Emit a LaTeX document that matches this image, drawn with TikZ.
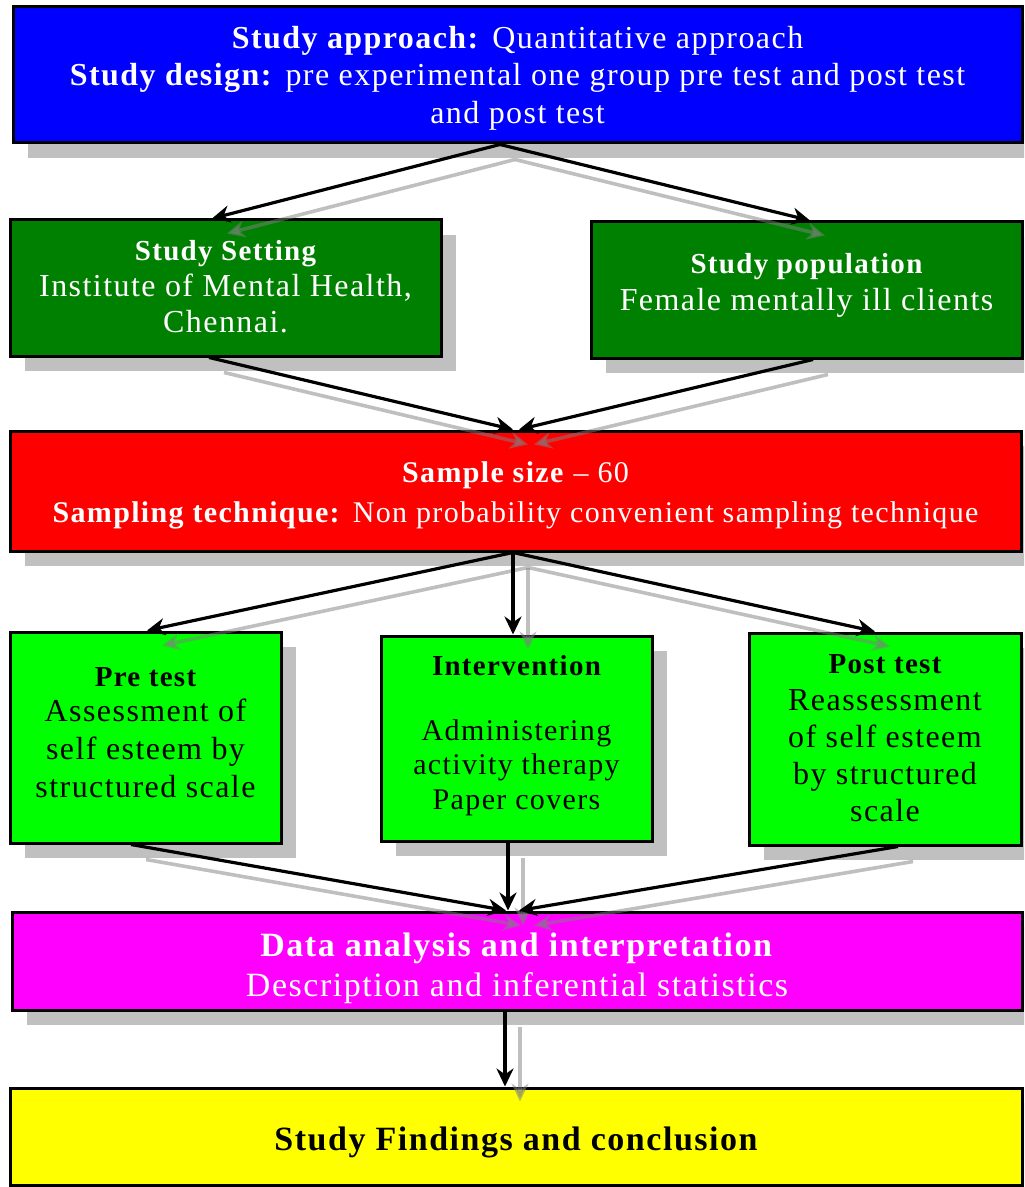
\documentclass[tikz,border=0pt]{standalone}
\usepackage{fontspec}
\setmainfont{Liberation Serif}[LetterSpace=4.5]
\usetikzlibrary{shadows,arrows.meta,calc}
\definecolor{shd}{HTML}{C0C0C0}
\definecolor{cblue}{HTML}{0000FF}
\definecolor{cdgreen}{HTML}{008000}
\definecolor{cred}{HTML}{FF0000}
\definecolor{clgreen}{HTML}{00FF00}
\definecolor{cmag}{HTML}{FF00FF}
\definecolor{cyel}{HTML}{FFFF00}
\newcommand\allconns[1]{%
  \draw[#1] ($(blue.south)+(-17.5,0)$) -- ($(set.north)+(-13.5,0)$);
  \draw[#1] ($(blue.south)+(-17.5,0)$) -- ($(pop.north)+(3.5,0)$);
  \draw[#1] ($(set.south)+(-16.5,0)$) -- ($(red.north)+(-2.5,0)$);
  \draw[#1] ($(pop.south)+(6.5,0)$) -- ($(red.north)+(3.5,0)$);
  \draw[#1] ($(red.south)+(-2.5,0)$) -- ($(pre.north)+(1.5,0)$);
  \draw[#1] ($(red.south)+(-2.5,0)$) -- ($(int.north)+(-3.5,0)$);
  \draw[#1] ($(red.south)+(-2.5,0)$) -- ($(post.north)+(-10,0)$);
  \draw[#1] ($(pre.south)+(-14.5,0)$) -- ($(mag.north)+(-11,0)$);
  \draw[#1] ($(int.south)+(-8.5,0)$) -- ($(mag.north)+(-9,0)$);
  \draw[#1] ($(post.south)+(13,0)$) -- ($(mag.north)+(2,0)$);
  \draw[#1] ($(mag.south)+(-12,0)$) -- ($(yel.north)+(-11,0)$);
}
\begin{document}
\begin{tikzpicture}[x=0.5pt,y=-0.5pt,
  box/.style={draw=black, line width=1.5pt, rectangle, inner sep=0pt,
    drop shadow={shadow xshift=7.5pt, shadow yshift=-7.5pt, fill=shd, opacity=1}},
  txt/.style={inner sep=0pt, align=center},
  arr/.style={line width=1.6pt, draw=black, -{Stealth[length=9pt,width=8.5pt]}},
  sarr/.style={line width=1.8pt, draw=black!50, opacity=0.5,
    transform canvas={xshift=7.5pt,yshift=-7.5pt}, -{Stealth[length=9pt,width=8.5pt]}},
]
\useasboundingbox (0,0) rectangle (1024,1187);
\clip (0,0) rectangle (1024,1187);

% boxes
\node[box, fill=cblue, minimum width=504.5pt, minimum height=68pt] (blue) at (517.5,75) {};
\node[box, fill=cdgreen, minimum width=215.5pt, minimum height=68pt] (set) at (225.5,288) {};
\node[box, fill=cdgreen, minimum width=215.5pt, minimum height=68pt] (pop) at (806.5,290) {};
\node[box, fill=cred, minimum width=505.5pt, minimum height=60pt] (red) at (515.5,491) {};
\node[box, fill=clgreen, minimum width=135.5pt, minimum height=105.5pt] (pre) at (145.5,737.5) {};
\node[box, fill=clgreen, minimum width=135.5pt, minimum height=102.5pt] (int) at (516.5,738.5) {};
\node[box, fill=clgreen, minimum width=136pt, minimum height=106pt] (post) at (885,739) {};
\node[box, fill=cmag, minimum width=505pt, minimum height=49pt] (mag) at (517,961) {};
\node[box, fill=cyel, minimum width=506pt, minimum height=48.5pt] (yel) at (516,1136.5) {};

% texts
\node[txt, text=white, font=\fontsize{16}{18.75}\selectfont] (bluet) at (517.5,78)
  {\textbf{Study approach:} Quantitative approach\\
   \textbf{Study design:} pre experimental one group pre test and post test\\
   and post test};

\node[txt, text=white, font=\fontsize{16}{18}\selectfont] (sett) at (225.5,287)
  {{\fontsize{14.5}{18}\selectfont\bfseries Study Setting}\\
   Institute of Mental Health,\\ Chennai.};

\node[txt, text=white, font=\fontsize{16}{18.5}\selectfont] (popt) at (806.5,285.5)
  {{\fontsize{14.5}{18}\selectfont\bfseries Study population}\\
   Female mentally ill clients};

\node[txt, text=white, font=\fontsize{15}{20}\selectfont] (redt) at (515.5,495)
  {\textbf{Sample size} -- 60\\
   \textbf{Sampling technique:} Non probability convenient sampling technique};

\node[txt, text=black, font=\fontsize{16}{19}\selectfont] (pret) at (145.5,732.5)
  {{\fontsize{14.5}{18}\selectfont\bfseries Pre test}\\[-1.5pt]
   Assessment of\\ self esteem by\\ structured scale};

\node[txt, text=black, font=\fontsize{15}{17.25}\selectfont] (intt) at (516.5,735.5)
  {{\fontsize{14.5}{18}\selectfont\bfseries Intervention}\\[15pt]
   Administering\\ activity therapy\\ Paper covers};

\node[txt, text=black, font=\fontsize{16}{18.5}\selectfont] (postt) at (885,738.5)
  {{\fontsize{14.5}{18}\selectfont\bfseries Post test}\\
   Reassessment\\ of self esteem\\ by structured\\ scale};

\node[txt, text=white, font=\fontsize{17}{20}\selectfont] (magt) at (517,968)
  {\textbf{Data analysis and interpretation}\\
   Description and inferential statistics};

\node[txt, text=black, font=\fontsize{17}{20}\selectfont\bfseries] (yelt) at (516,1142.5)
  {Study Findings and conclusion};

\allconns{sarr}
\allconns{arr}
\end{tikzpicture}
\end{document}
